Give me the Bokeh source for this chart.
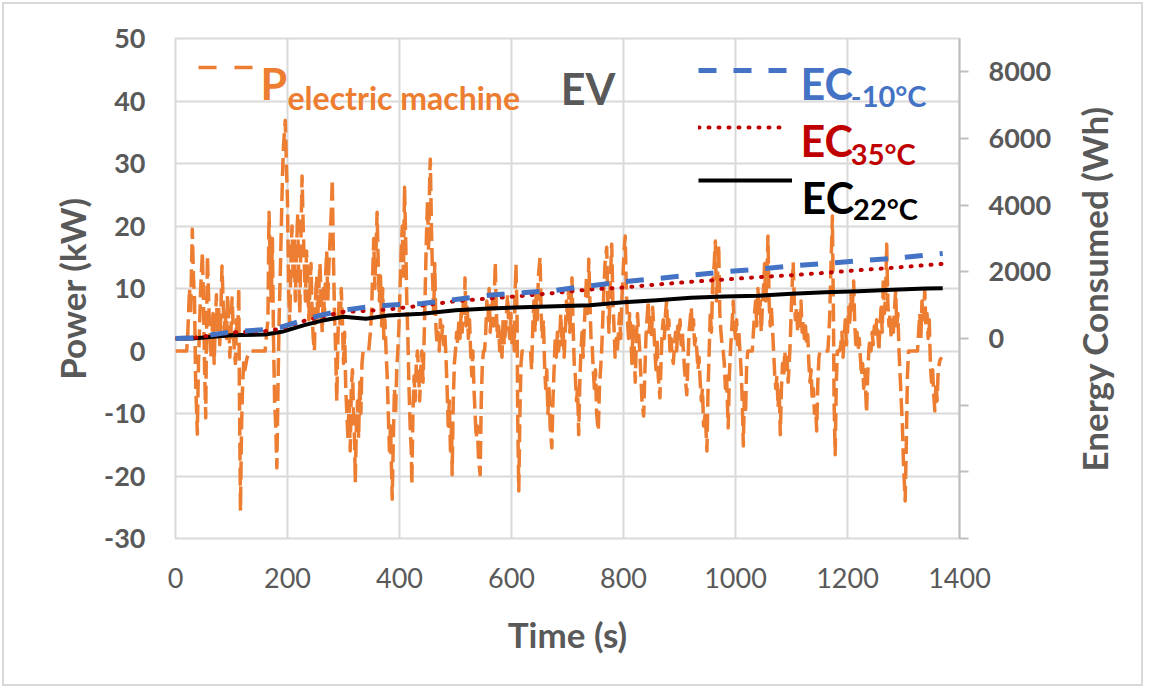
from math import pi
from bokeh.plotting import figure
from bokeh.models import Range1d, LinearAxis, FixedTicker, Label, Legend, LegendItem
from bokeh.embed import file_html
from bokeh.resources import INLINE

# ---------------- data ----------------
power_time_s = [
    0, 20, 22, 25, 27, 30, 32, 34, 36, 39,
    41, 43, 45, 48, 50, 52, 54, 55, 57, 59,
    61, 63, 65, 67, 69, 71, 73, 75, 77, 79,
    81, 83, 85, 87, 89, 91, 93, 95, 97, 99,
    101, 103, 105, 107, 109, 111, 113, 114, 116, 118,
    120, 122, 124, 128, 132, 160, 165, 167, 169, 171,
    173, 175, 177, 179, 181, 183, 185, 187, 189, 191,
    193, 196, 198, 200, 202, 204, 206, 208, 210, 212,
    214, 216, 218, 220, 222, 224, 226, 228, 230, 232,
    234, 236, 238, 240, 242, 244, 246, 248, 250, 252,
    254, 256, 258, 260, 262, 264, 266, 268, 270, 272,
    274, 276, 278, 280, 282, 284, 286, 288, 290, 292,
    294, 296, 298, 300, 302, 304, 306, 308, 310, 312,
    314, 316, 318, 320, 321, 323, 325, 327, 329, 331,
    333, 335, 345, 348, 350, 352, 354, 356, 358, 360,
    362, 364, 366, 368, 370, 372, 374, 376, 378, 380,
    382, 384, 386, 387, 389, 391, 393, 395, 397, 399,
    401, 403, 405, 407, 409, 411, 413, 415, 417, 419,
    421, 422, 424, 426, 428, 430, 432, 434, 436, 438,
    440, 442, 444, 446, 448, 450, 452, 454, 455, 457,
    459, 461, 463, 465, 467, 469, 471, 473, 475, 477,
    479, 481, 483, 485, 487, 489, 491, 493, 494, 496,
    498, 500, 502, 504, 506, 508, 510, 512, 514, 516,
    517, 519, 521, 523, 525, 527, 529, 531, 533, 535,
    537, 539, 541, 544, 546, 548, 550, 552, 554, 556,
    558, 560, 562, 564, 566, 568, 571, 573, 575, 577,
    579, 581, 583, 585, 587, 589, 591, 593, 595, 597,
    599, 601, 603, 605, 606, 608, 610, 611, 613, 615,
    617, 619, 634, 636, 638, 640, 642, 644, 646, 648,
    651, 653, 655, 657, 659, 661, 663, 665, 667, 669,
    672, 674, 676, 678, 680, 682, 684, 686, 688, 690,
    692, 694, 696, 698, 700, 702, 704, 706, 708, 710,
    712, 714, 716, 718, 720, 722, 724, 726, 728, 730,
    732, 734, 736, 738, 740, 742, 744, 746, 748, 750,
    752, 755, 757, 759, 761, 763, 765, 767, 770, 772,
    774, 776, 779, 781, 783, 785, 787, 789, 791, 793,
    795, 797, 799, 801, 803, 805, 807, 809, 811, 813,
    815, 817, 819, 821, 823, 825, 827, 829, 831, 833,
    836, 838, 840, 842, 844, 846, 848, 850, 852, 854,
    856, 858, 860, 862, 865, 867, 869, 871, 873, 875,
    877, 879, 881, 883, 885, 887, 889, 891, 893, 895,
    897, 899, 901, 903, 905, 907, 909, 911, 913, 915,
    917, 919, 921, 923, 925, 927, 929, 931, 933, 935,
    937, 939, 941, 943, 946, 949, 951, 953, 955, 957,
    959, 962, 964, 966, 968, 970, 972, 974, 976, 978,
    980, 982, 984, 987, 989, 991, 993, 996, 998, 1000,
    1002, 1004, 1006, 1008, 1010, 1012, 1014, 1016, 1018, 1020,
    1022, 1030, 1032, 1034, 1036, 1038, 1040, 1042, 1044, 1046,
    1048, 1050, 1052, 1054, 1056, 1058, 1060, 1062, 1064, 1066,
    1068, 1070, 1072, 1074, 1076, 1078, 1080, 1082, 1084, 1086,
    1088, 1090, 1092, 1094, 1096, 1098, 1100, 1103, 1105, 1107,
    1109, 1111, 1113, 1115, 1117, 1119, 1121, 1123, 1125, 1127,
    1129, 1131, 1133, 1135, 1137, 1139, 1141, 1143, 1145, 1147,
    1149, 1151, 1165, 1168, 1170, 1173, 1175, 1176, 1178, 1180,
    1182, 1186, 1188, 1190, 1192, 1194, 1196, 1198, 1200, 1202,
    1204, 1206, 1208, 1211, 1213, 1215, 1217, 1219, 1221, 1223,
    1225, 1227, 1229, 1231, 1234, 1236, 1238, 1240, 1242, 1244,
    1246, 1248, 1250, 1252, 1254, 1256, 1258, 1260, 1262, 1264,
    1266, 1268, 1270, 1272, 1274, 1276, 1278, 1280, 1282, 1284,
    1286, 1288, 1290, 1292, 1294, 1296, 1298, 1300, 1303, 1305,
    1307, 1309, 1325, 1327, 1329, 1331, 1333, 1335, 1338, 1340,
    1342, 1344, 1346, 1348, 1350, 1352, 1354, 1356, 1358, 1360,
    1362, 1365, 1368,
]
power_kw = [
    0, 0, 3, 10, 6, 19.5, 12, 8, -5, -13.3,
    -2, 4, 10, 15.8, 8, -3, -10.7, 0, 15.2, 9,
    3, -1, 2, 6, -2, 4, 9, 3, 7, 1,
    6, 13.6, 8, 3, 6, 2, 9, 5, -1, 3,
    8.5, 4, 0, -2, 5, 2, 10.1, -5, -25.6, -12,
    -5, -1.5, -3, -1, 0, 0, 5, 22.2, 14, 8,
    18, 2, -8, -12, -18.7, -6, 5, 12, 20, 28,
    33, 36.9, 30, 24, 10, 4, 14, 20, 12, 18,
    8, 15, 22, 12, 6, 18, 28, 20, 14, 8,
    16, 12, 5, 10, 14, 6, 2, 0, 8, 12,
    5, 10, 14, 8, 3, 10, 6, 12, 16, 8,
    14, 18, 22, 27.5, 15, 6, 0, -8, 2, 8,
    4, 10, 5, -2, 3, -6, -10, -14, -8, -16,
    -6, -3, -10, -15, -21, -12, -8, -14, -5, -10,
    -2, 0, 0, 3, 6, 12, 18, 10, 16, 22.2,
    14, 8, 12, 4, 10, 2, 5, 0, -4, -10,
    -16, -12, -20, -23.7, -14, -6, -10, -3, 0, 4,
    10, 16, 20, 12, 26.2, 18, 8, 2, -6, -12,
    -16, -21.4, -10, -4, -8, -2, 0, -3, -8, -3,
    0, -5, 2, 10, 18, 24, 16, 28, 30.7, 20,
    12, 6, 14, 4, 1, 3, 0, 5, 2, 4,
    1, 3, -1, -6, -12, -8, -16, -12, -19.8, -8,
    -2, 0, 3, 1, 5, 2, 6, 3, 8, 6,
    11.7, 4, 7, 2, 5, 0, -4, 0, -6, -10,
    -14, -12, -17, -19.8, -8, -2, 0, 0, 3, 8,
    5, 10, 3, 6, 8, 4, 14.2, 6, 2, 4,
    0, 3, -1, 5, 1, 3, 6, 9, 4, 2,
    6, 1, 4, 0, 8, 13.9, 5, -10, -22.4, -10,
    -2, 0, 0, -3, 4, 8, 3, 9, 5, 12,
    15, 6, 2, 5, -2, -6, -3, -10, -6, -12,
    -15.5, -8, -3, 2, -1, 3, 0, 2, 6, 1,
    4, -1, 3, 8, 5, 10, 3, 7, 11.7, 4,
    -2, -4, -8, -6, -13.4, -5, 0, 3, -1, 4,
    8, 12, 6, 14.7, 8, 2, 1, -3, -6, -3,
    -10, -12.8, -6, -3, 0, 5, 10, 14, 16.6, 8,
    3, 10, 17.1, 8, 4, -1, 2, 0, 3, 6,
    2, 8, 12, 16, 18.4, 10, 5, 2, 6, 3,
    -2, 4, 1, -5, 2, 6, 3, 0, -4, -8,
    -10.4, -4, 2, 5, 8, 3, 6, 2, 7, 4,
    0, -3, 2, -4, -7.5, -2, 3, 5, 2, 6,
    8, 3, 5, 0, 2, -1, -2, 1, 3, 0,
    4, 2, 5, 1, 3, 0, -3, -5, -7, -2,
    3, 5, 7, 3, 5, 1, 2, 0, -3, -1,
    -5, -8, -6, -12, -10, -16, -6, 0, 6, 3,
    10, 14, 17.6, 8, 12, 17, 6, 3, 1, 0,
    -2, -6, -4, -12.3, -4, 0, 3, 8, 4, 2,
    5, 1, 3, 0, -3, -8, -15.2, -6, -10, -2,
    0, 0, 3, 6, 8, 4, 10, 6, 8, 3,
    7, 10, 14, 8, 12, 18.4, 8, 4, 7, 3.7,
    0, -3.7, -6, -4, -9, -6, -13.4, -6, -2, -4,
    0, -3, -1, -5, -2, 2, 8, 14.2, 8, 5,
    7, 3, 6, 4, 8, 3, 5, 2, 4, 1,
    2.6, -2, -5, -3, -8, -6, -10, -9, -12.8, -5,
    -1, 0, 0, 5, 12, 21.6, 5, -8, -16.6, -5,
    0, 0, 1, 3, -1, 2, 5, 1, 3, 7,
    4, 9, 6, 11.2, 4, 1, 3, 0, 2, -1,
    -4, -2, -6, -3, -9.9, -4, 0, 2, 0, 3,
    1, 4, 2, 5, 3, 0, 4, 7, 3, 11.7,
    6, 9, 17.1, 8, 4, 6, 2, 5, 3, 7,
    9.6, 4, 6, 0, -4, -8, -12, -18, -24, -15,
    -4, 0, 0, 3, 6, 2, 8, 5, 9.6, 4,
    6, 2, 5, -2, -5, -3, -7, -9.6, -5, -8,
    -3, -1.5, -1,
]

ec_time_s = [0, 30, 100, 160, 190, 230, 260, 300, 340, 380, 440, 500, 560, 620,
             680, 740, 800, 860, 920, 980, 1040, 1100, 1160, 1220, 1280, 1340, 1370]
ec_minus10_wh = [0, 20, 200, 270, 350, 560, 700, 850, 940, 1000, 1050, 1170, 1300, 1370,
                 1450, 1580, 1700, 1800, 1900, 2000, 2080, 2180, 2250, 2330, 2400, 2500, 2550]
ec_35_wh = [0, 10, 180, 220, 300, 530, 650, 800, 830, 870, 990, 1120, 1200, 1280,
            1370, 1470, 1530, 1620, 1700, 1770, 1840, 1900, 1970, 2050, 2120, 2200, 2240]
ec_22_wh = [0, 0, 100, 120, 200, 400, 530, 650, 590, 690, 740, 850, 900, 940,
            970, 1000, 1090, 1150, 1220, 1260, 1280, 1340, 1390, 1420, 1460, 1500, 1510]

time_ticks = [0, 200, 400, 600, 800, 1000, 1200, 1400]
power_ticks = [-30, -20, -10, 0, 10, 20, 30, 40, 50]
power_tick_labels = {-30: "-30", -20: "-20", -10: "-10"}
energy_ticks = [-6000, -4000, -2000, 0, 2000, 4000, 6000, 8000]
energy_tick_labels = {-6000: "", -4000: "", -2000: ""}
energy_title = "Energy Consumed (Wh)"

# ---------------- styles ----------------
FONT = "Lato"
GRAY_TXT = "#595959"
GRID = "#d9d9d9"
ORANGE = "#ED7D31"
BLUE = "#4472C4"
RED = "#C00000"
BLACK = "#000000"
TITLE_SIZE = "35px"
TICK_SIZE = "27px"

p = figure(width=1141, height=684,
           x_range=Range1d(0, 1400), y_range=Range1d(-30, 50),
           output_backend="svg", toolbar_location=None,
           min_border_left=171, min_border_right=186,
           min_border_top=34, min_border_bottom=150)
p.extra_y_ranges = {"energy": Range1d(-6000, 9000)}
p.background_fill_color = "white"
p.border_fill_color = "white"
p.outline_line_color = GRID
p.outline_line_width = 2
p.styles = {"border": "2px solid #d9d9d9", "margin": "2px"}

p.xgrid.ticker = FixedTicker(ticks=time_ticks)
p.ygrid.ticker = FixedTicker(ticks=power_ticks)
for g in (p.xgrid[0], p.ygrid[0]):
    g.grid_line_color = GRID
    g.grid_line_width = 2

xa = p.below[0]
xa.ticker = FixedTicker(ticks=time_ticks)
xa.major_tick_line_color = None
xa.minor_tick_line_color = None
xa.major_tick_out = 0
xa.major_tick_in = 0
xa.axis_line_color = None
xa.major_label_text_font = FONT
xa.major_label_text_font_size = TICK_SIZE
xa.major_label_text_color = GRAY_TXT
xa.major_label_standoff = 29
xa.axis_label = "Time (s)"
xa.axis_label_text_font = FONT
xa.axis_label_text_font_size = TITLE_SIZE
xa.axis_label_text_font_style = "bold"
xa.axis_label_text_color = GRAY_TXT
xa.axis_label_standoff = 22

ya = p.left[0]
ya.ticker = FixedTicker(ticks=power_ticks)
ya.major_label_overrides = power_tick_labels
ya.major_tick_line_color = None
ya.minor_tick_line_color = None
ya.major_tick_out = 0
ya.major_tick_in = 0
ya.axis_line_color = None
ya.major_label_text_font = FONT
ya.major_label_text_font_size = TICK_SIZE
ya.major_label_text_font_style = "bold"
ya.major_label_text_color = GRAY_TXT
ya.major_label_standoff = 30
ya.axis_label = "Power (kW)"
ya.axis_label_text_font = FONT
ya.axis_label_text_font_size = TITLE_SIZE
ya.axis_label_text_font_style = "bold"
ya.axis_label_text_color = GRAY_TXT
ya.axis_label_standoff = 8

ra = LinearAxis(y_range_name="energy", ticker=FixedTicker(ticks=energy_ticks))
ra.major_label_overrides = energy_tick_labels
ra.axis_line_color = "#bfbfbf"
ra.axis_line_width = 2
ra.major_tick_line_color = "#bfbfbf"
ra.major_tick_line_width = 2
ra.major_tick_out = 9
ra.major_tick_in = 0
ra.minor_tick_line_color = None
ra.major_label_text_font = FONT
ra.major_label_text_font_size = TICK_SIZE
ra.major_label_text_font_style = "bold"
ra.major_label_text_color = GRAY_TXT
ra.major_label_standoff = 20
p.add_layout(ra, "right")

# right axis title (reads bottom-to-top): a second right axis carrying one rotated label,
# anchored so that the text ends up centred on the frame
title_anchor = 2100
ta = LinearAxis(y_range_name="energy", ticker=FixedTicker(ticks=[title_anchor]))
ta.major_label_overrides = {title_anchor: energy_title}
ta.major_label_orientation = pi / 2
ta.axis_line_color = None
ta.major_tick_line_color = None
ta.minor_tick_line_color = None
ta.major_tick_out = 0
ta.major_tick_in = 0
ta.major_label_standoff = 40
ta.major_label_text_font = FONT
ta.major_label_text_font_size = TITLE_SIZE
ta.major_label_text_font_style = "bold"
ta.major_label_text_color = GRAY_TXT
p.add_layout(ta, "right")

# ---------------- series ----------------
r_pow = p.line(power_time_s, power_kw, line_color=ORANGE, line_width=3.5,
               line_dash="18 7", line_join="round")
r_22 = p.line(ec_time_s, ec_22_wh, y_range_name="energy", line_color=BLACK,
              line_width=4, line_join="round")
r_35 = p.line(ec_time_s, ec_35_wh, y_range_name="energy", line_color=RED,
              line_width=4, line_dash="1 9", line_cap="round")
r_m10 = p.line(ec_time_s, ec_minus10_wh, y_range_name="energy", line_color=BLUE,
               line_width=5, line_dash="18 17")
# hidden twin of the power trace, used only for its legend sample (wider gaps)
r_pow_key = p.line(power_time_s, power_kw, line_color=ORANGE, line_width=3.5,
                   line_dash="18 18", visible=False)

# ---------------- legend samples (screen px from frame bottom-left) ----------------
def sample(renderer, x, y_mid, w):
    h = 20
    leg = Legend(items=[LegendItem(label=" ", renderers=[renderer])],
                 location=(x, y_mid - h / 2), glyph_width=w, glyph_height=h,
                 label_height=h, label_width=1, label_standoff=0,
                 label_text_font_size="1px", padding=0, margin=0, spacing=0,
                 border_line_color=None, background_fill_alpha=0,
                 inactive_fill_alpha=0)
    p.add_layout(leg)

sample(r_pow_key, 23, 471, 56)
sample(r_m10, 523, 468, 94)
sample(r_35, 523, 411, 90)
sample(r_22, 523, 358, 94)

# ---------------- legend texts (data coords) ----------------
def txt(x, y, s, color, size):
    p.add_layout(Label(x=x, y=y, text=s, text_color=color, text_font=FONT,
                       text_font_size=size, text_font_style="bold",
                       text_baseline="alphabetic", text_align="left"))

txt(152, 42.8, "P", ORANGE, "43px")
txt(200, 40.6, "electric machine", ORANGE, "32px")
txt(688, 42.0, "EV", GRAY_TXT, "43px")
txt(1116, 42.8, "EC", BLUE, "43px")
txt(1206, 40.9, "-10°C", BLUE, "29px")
txt(1116, 33.65, "EC", RED, "43px")
txt(1206, 31.6, "35°C", RED, "29px")
txt(1118, 24.5, "EC", BLACK, "43px")
txt(1210, 22.8, "22°C", BLACK, "29px")

open("out.html", "w").write(file_html(p, INLINE))
